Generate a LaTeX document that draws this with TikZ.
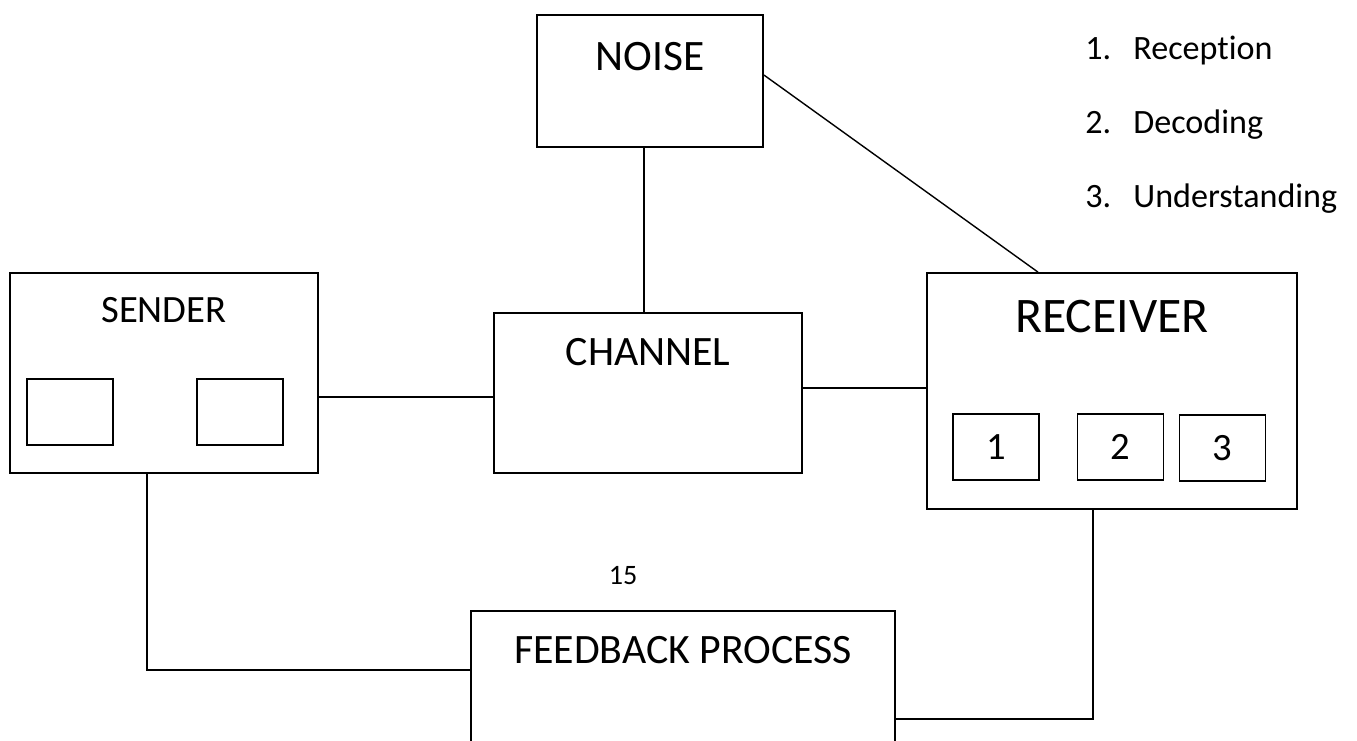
\documentclass[tikz,border=0pt]{standalone}
\usepackage{fontspec}
\setmainfont{Carlito}[Ligatures=NoCommon]
\usetikzlibrary{positioning}
\pgfdeclarelayer{edgelayer}
\pgfdeclarelayer{nodelayer}
\pgfsetlayers{edgelayer,nodelayer,main}
\tikzstyle{none}=[inner sep=0mm]
\tikzstyle{bigbox}=[draw=black,line width=1pt,rectangle,fill=white,inner sep=0pt]
\tikzstyle{smallbox}=[bigbox,minimum width=1.72cm,minimum height=1.32cm,font=\fontsize{22}{26}\selectfont]
\tikzstyle{title}=[none,font=\fontsize{23.8}{28}\selectfont]
\tikzstyle{item}=[none,anchor=base west,font=\fontsize{19.4}{23}\selectfont]
\tikzstyle{wire}=[line width=0.8pt]

\begin{document}
\begin{tikzpicture}
	\useasboundingbox (0,0) rectangle (27.14,-14.8);
	\clip (0,0) rectangle (27.14,-14.8);
	\begin{pgfonlayer}{nodelayer}
		\node [style=bigbox,minimum width=6.16cm,minimum height=4cm] (sender) at (3.28, -7.46) {};
		\node [style=smallbox] (s1) at (1.40, -8.24) {};
		\node [style=smallbox] (s2) at (4.80, -8.24) {};
		\node [style=title,font=\fontsize{22}{26}\selectfont] (sendertxt) at (3.28, -6.20) {SENDER};
		\node [style=bigbox,minimum width=4.52cm,minimum height=2.64cm] (noise) at (13.0, -1.62) {};
		\node [style=title,font=\fontsize{24.7}{29}\selectfont] (noisetxt) at (13.0, -1.14) {NOISE};
		\node [style=bigbox,minimum width=6.16cm,minimum height=3.2cm] (chan) at (12.96, -7.86) {};
		\node [style=title] (chantxt) at (12.96, -7.04) {CHANNEL};
		\node [style=bigbox,minimum width=7.4cm,minimum height=4.72cm] (recv) at (22.24, -7.82) {};
		\node [style=title,font=\fontsize{28.3}{33}\selectfont] (recvtxt) at (22.24, -6.34) {RECEIVER};
		\node [style=smallbox] (r1) at (19.92, -8.94) {1};
		\node [style=smallbox] (r2) at (22.41, -8.94) {2};
		\node [style=smallbox] (r3) at (24.45, -8.96) {3};
		\node [style=bigbox,minimum width=8.48cm,minimum height=3.58cm] (fb) at (13.66, -14.01) {};
		\node [style=title] (fbtxt) at (13.66, -13.0) {FEEDBACK PROCESS};
		\node [style=none,font=\fontsize{16}{19}\selectfont] (page) at (12.46, -11.52) {15};
		\node [style=item] (n1) at (21.70, -1.18) {1.};
		\node [style=item] (t1) at (22.66, -1.18) {Reception};
		\node [style=item] (n2) at (21.70, -2.66) {2.};
		\node [style=item] (t2) at (22.66, -2.66) {Decoding};
		\node [style=item] (n3) at (21.70, -4.14) {3.};
		\node [style=item] (t3) at (22.66, -4.14) {Understanding};
	\end{pgfonlayer}
	\begin{pgfonlayer}{edgelayer}
		\draw [style=wire] ([yshift=-0.08cm]chan.west) -- ([yshift=-0.08cm]chan.west -| sender.east);
		\draw [style=wire] ([yshift=0.1cm]chan.east) -- ([yshift=0.1cm]chan.east -| recv.west);
		\draw [style=wire] ([xshift=-0.12cm]noise.south) -- ([xshift=-0.12cm]noise.south |- chan.north);
		\draw [style=wire] ([yshift=0.12cm]noise.east) -- ([xshift=-1.48cm]recv.north);
		\draw [style=wire] ([xshift=-0.34cm]sender.south) |- ([yshift=-1.2cm]fb.north west);
		\draw [style=wire] ([xshift=-0.38cm]recv.south) |- ([yshift=-2.18cm]fb.north east);
	\end{pgfonlayer}
\end{tikzpicture}
\end{document}
